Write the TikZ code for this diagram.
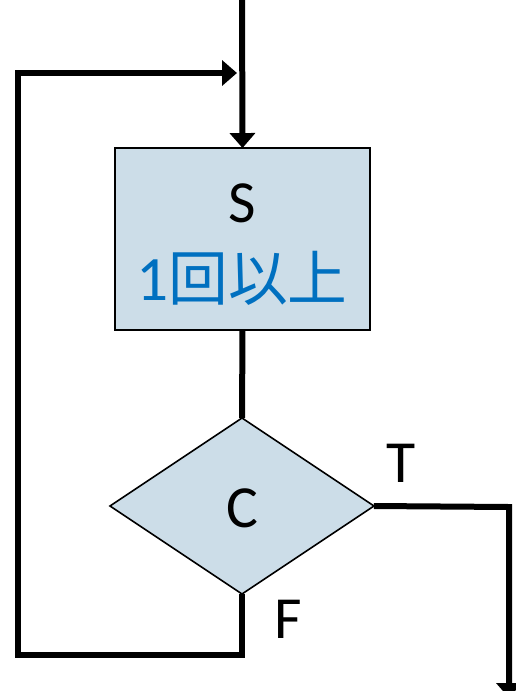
\documentclass[tikz,border=0pt]{standalone}
\usepackage{fontspec}
\setmainfont{Carlito}
\newfontfamily\cjk{Noto Sans CJK JP}
\usetikzlibrary{shapes.geometric,arrows.meta}
\definecolor{boxfill}{HTML}{CCDDE8}
\definecolor{noteblue}{HTML}{0070C0}
\begin{document}
\begin{tikzpicture}[x=0.02cm, y=-0.02cm,
  flow/.style={line width=0.12cm, line join=miter, line cap=butt},
  tip/.style={-{Triangle[length=0.3cm, width=0.5cm]}},
  stepbox/.style={draw=black, line width=0.9pt, fill=boxfill, rectangle,
    minimum width=5.1cm, minimum height=3.64cm, inner sep=0pt, outer sep=0pt},
  decision/.style={draw=black, line width=0.9pt, fill=boxfill, diamond,
    minimum width=5.28cm, minimum height=3.52cm, inner sep=0pt, outer sep=0pt},
  big/.style={font=\fontsize{34}{40}\selectfont, inner sep=0pt}]
  \useasboundingbox (0,0) rectangle (515,691);

  % process box and decision
  \node[stepbox] (body) at (242.5,239) {};
  \node[decision] (cond) at (242,506) {};

  % texts
  \node[big, anchor=base] (s) at (242,222) {S};
  \node[big, anchor=base, text=noteblue] (n) at (242,300)
    {\fontsize{36}{40}\selectfont 1\cjk\fontsize{34}{40}\selectfont 回以上};
  \node[big, anchor=base] (c) at (242,527) {C};
  \node[big, anchor=base] (t) at (401,482) {T};
  \node[big, anchor=base] (f) at (288,638) {F};

  % connectors
  \coordinate (entry) at (242,-5);
  \coordinate (loopin) at (237,73);
  \coordinate (exit) at (509,698);
  \draw[flow, tip] (entry) -- (body.north);
  \draw[flow] (body.south) -- (cond.north);
  \draw[flow, tip] (cond.south) |- (18,655) |- (loopin);
  \draw[flow, tip] (cond.east) -- (509,507) -- (exit);
\end{tikzpicture}
\end{document}
